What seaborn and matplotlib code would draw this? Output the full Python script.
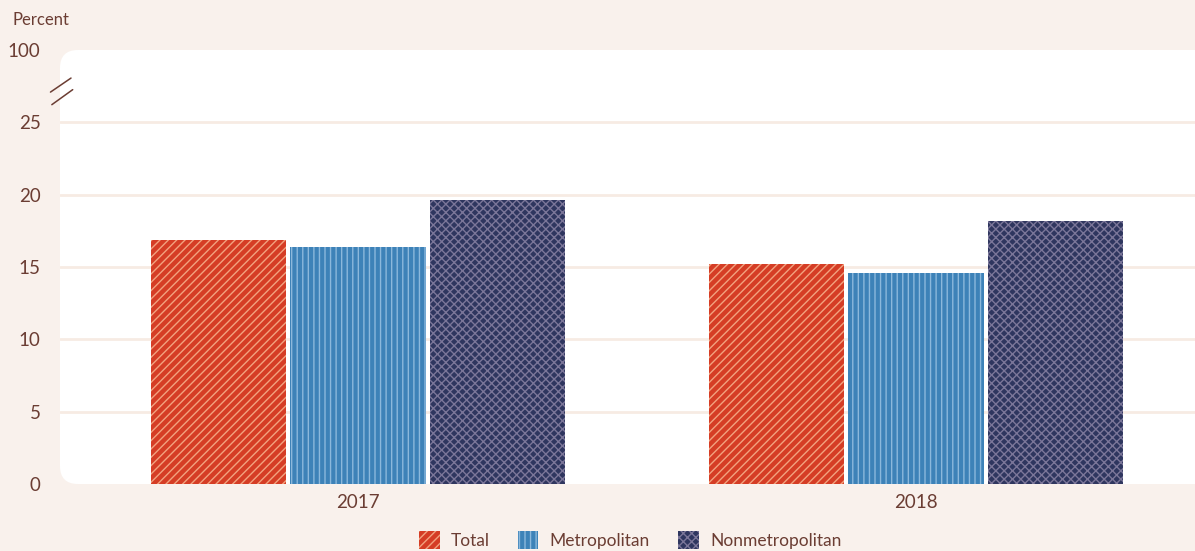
import matplotlib
matplotlib.use("Agg")
import matplotlib.pyplot as plt
import matplotlib.transforms as mtrans
from matplotlib.patches import FancyBboxPatch
import seaborn as sns
import pandas as pd

# ---- data ----
years = ["2017", "2018"]
groups = ["Total", "Metropolitan", "Nonmetropolitan"]
total = [16.9, 15.2]
metropolitan = [16.4, 14.6]
nonmetropolitan = [19.6, 18.2]
ytick_values = [0, 5, 10, 15, 20, 25, 30]
ytick_labels = ["0", "5", "10", "15", "20", "25", "100"]

# ---- style ----
BG = "#f9f1ec"
GRID = "#f7ebe3"
TXT = "#6b3d33"
colors = {"Total": "#d53d25", "Metropolitan": "#3d82b8", "Nonmetropolitan": "#2f365f"}
hatch_colors = {"Total": "#f2a27f", "Metropolitan": "#8bb8dc", "Nonmetropolitan": "#7b7699"}
hatches = {"Total": "////", "Metropolitan": "|||", "Nonmetropolitan": "xxxx"}

sns.set_theme(style="white")
plt.rcParams["font.family"] = ["Lato", "DejaVu Sans"]
plt.rcParams["hatch.linewidth"] = 1.0

df = pd.DataFrame({
    "year": years * 3,
    "group": sum([[g] * len(years) for g in groups], []),
    "value": total + metropolitan + nonmetropolitan,
})

W, H = 1195, 551
fig = plt.figure(figsize=(W / 100, H / 100), dpi=100)
fig.patch.set_facecolor(BG)

left_px, top_px, bottom_px = 60, 50, 484
ax = fig.add_axes([left_px / W, 1 - bottom_px / H, 1 - left_px / W, (bottom_px - top_px) / H])
ax.patch.set_visible(False)

# rounded white panel
panel = FancyBboxPatch((left_px, H - bottom_px), W - left_px + 60, bottom_px - top_px,
                       boxstyle="round,pad=0,rounding_size=18",
                       transform=mtrans.IdentityTransform(),
                       facecolor="white", edgecolor="none", zorder=-1)
fig.add_artist(panel)

sns.barplot(data=df, x="year", y="value", hue="group", order=years, hue_order=groups,
            palette=colors, width=0.75, gap=0.03, linewidth=0, saturation=1,
            ax=ax, legend=False, zorder=3)

for cont, g in zip(ax.containers, groups):
    for p in cont.patches:
        p.set_hatch(hatches[g])
        p.set_edgecolor(hatch_colors[g])
        p.set_linewidth(0)

ax.set_ylim(0, 30)
ax.set_xlim(-0.534, 1.5)
ax.set_yticks(ytick_values)
ax.set_yticklabels(ytick_labels)
ax.set_xlabel("")
ax.set_ylabel("")
ax.tick_params(axis="y", length=0, pad=14, labelsize=13.5, labelcolor=TXT)
ax.tick_params(axis="x", length=0, pad=7, labelsize=13.5, labelcolor=TXT)
for s in ax.spines.values():
    s.set_visible(False)

ax.yaxis.grid(True, color=GRID, linewidth=2, zorder=0)
ax.set_axisbelow(True)
gls = ax.yaxis.get_gridlines()
gls[0].set_visible(False)
gls[-1].set_visible(False)

# axis break marks
bt = mtrans.blended_transform_factory(ax.transAxes, ax.transData)
ax.plot([-0.0084, 0.0097], [27.09, 28.06], color=TXT, lw=1.1, transform=bt, clip_on=False)
ax.plot([-0.0072, 0.0112], [26.22, 27.26], color=TXT, lw=1.1, transform=bt, clip_on=False)

fig.text(12 / W, 1 - 20 / H, "Percent", ha="left", va="center", fontsize=12, color=TXT)

leg = fig.legend(handles=ax.containers, labels=groups, loc="center",
                 bbox_to_anchor=(630 / W, 1 - 540 / H), ncol=3, frameon=False,
                 fontsize=12.5, handlelength=1.2, handleheight=1.2, handletextpad=0.65,
                 columnspacing=1.6, labelcolor=TXT)

fig.savefig("out.png", dpi=100, facecolor=BG)
